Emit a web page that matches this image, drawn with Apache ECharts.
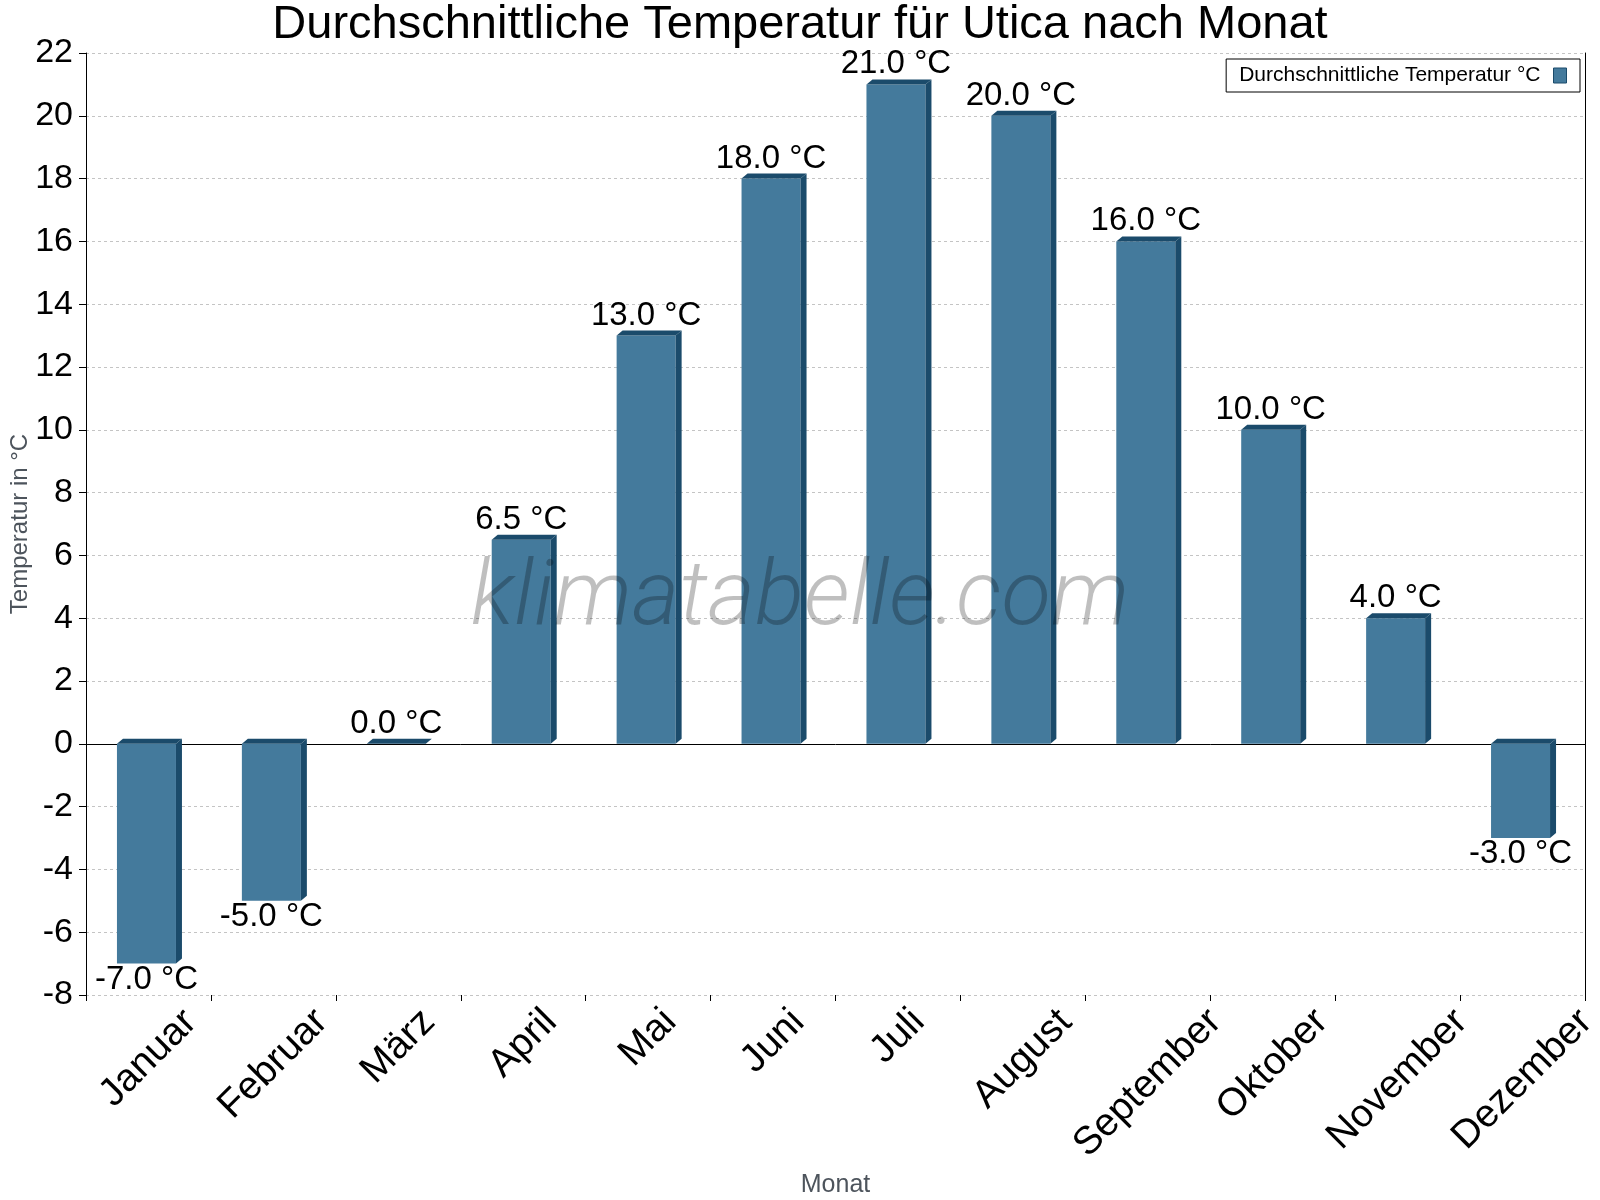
<!DOCTYPE html>
<html>
<head>
<meta charset="utf-8">
<script src="https://cdn.jsdelivr.net/npm/echarts@6/dist/echarts.min.js"></script>
<style>
  html, body { margin: 0; padding: 0; background: #fff; }
  #main { width: 1600px; height: 1200px; }
</style>
</head>
<body>
<div id="main"></div>
<script>
// data
const months = ['Januar', 'Februar', 'März', 'April', 'Mai', 'Juni', 'Juli', 'August', 'September', 'Oktober', 'November', 'Dezember'];
const temps = [-7.0, -5.0, 0.0, 6.5, 13.0, 18.0, 21.0, 20.0, 16.0, 10.0, 4.0, -3.0];
const yTicks = { min: -8, max: 22, interval: 2 };
const seriesName = 'Durchschnittliche Temperatur °C';

const FONT = '"Liberation Sans", Arial, sans-serif';
const FRONT = '#447a9c';
const SIDE = '#1b4b6b';

// rotated month labels: centred on the category, tops lined up
const xFont = 39;
const ctx = document.createElement('canvas').getContext('2d');
ctx.font = xFont + 'px "Liberation Sans"';
const rich = {};
months.forEach((m, i) => {
  const p = Math.round(ctx.measureText(m).width * 0.5);
  rich['m' + i] = { fontSize: xFont, fontFamily: FONT, color: '#000', padding: [p, p, 0, 0] };
});

function renderItem(params, api) {
  const idx = api.value(0);
  const val = api.value(1);
  const base = api.coord([idx, 0]);
  const end = api.coord([idx, val]);
  const w = 59, d = 6, dy = 5;
  const x0 = base[0] - 31.5;
  const x1 = x0 + w;
  const yT = Math.min(base[1], end[1]);
  const yB = Math.max(base[1], end[1]);
  const labelY = val >= 0 ? yT - dy - 15 : yB + 16;
  return {
    type: 'group',
    children: [
      { type: 'rect', shape: { x: x0, y: yT, width: w, height: yB - yT }, style: { fill: FRONT } },
      { type: 'polygon', shape: { points: [[x1, yT], [x1 + d, yT - dy], [x1 + d, yB - dy], [x1, yB]] }, style: { fill: SIDE } },
      { type: 'polygon', shape: { points: [[x0, yT], [x0 + d, yT - dy], [x1 + d, yT - dy], [x1, yT]] }, style: { fill: SIDE } },
      {
        type: 'text',
        style: {
          x: x0 + w / 2, y: labelY,
          text: val.toFixed(1) + ' °C',
          align: 'center', verticalAlign: 'middle',
          font: '33px ' + FONT, fill: '#000'
        }
      }
    ]
  };
}

const chart = echarts.init(document.getElementById('main'));
chart.setOption({
  backgroundColor: '#fff',
  animation: false,
  title: {
    text: 'Durchschnittliche Temperatur für Utica nach Monat',
    left: 'center', top: 2, padding: 0,
    textStyle: { fontFamily: FONT, fontSize: 47, fontWeight: 'normal', color: '#000' }
  },
  legend: {
    right: 20, top: 59,
    align: 'right',
    padding: [6, 13, 6, 13],
    borderColor: '#000', borderWidth: 1,
    itemWidth: 13, itemHeight: 15,
    textStyle: { fontFamily: FONT, fontSize: 21, color: '#000', padding: [0, 8, 0, 0] },
    data: [{ name: seriesName, icon: 'rect', itemStyle: { color: FRONT, borderColor: SIDE, borderWidth: 1 } }]
  },
  grid: { left: 86, right: 15, top: 53, bottom: 205, containLabel: false, outerBoundsMode: 'none' },
  xAxis: [{
    type: 'category',
    data: months,
    boundaryGap: true,
    name: 'Monat',
    nameLocation: 'middle',
    nameGap: 178,
    nameMoveOverlap: false,
    nameTextStyle: { fontFamily: FONT, fontSize: 25, color: '#4d545c' },
    axisLine: { show: false, onZero: false },
    axisTick: { show: true, length: 6, lineStyle: { color: '#000' } },
    axisLabel: {
      interval: 0, rotate: 45, margin: 21,
      align: 'center', verticalAlign: 'middle',
      fontFamily: FONT, fontSize: xFont, color: '#000',
      formatter: (v, i) => '{m' + i + '|' + v + '}',
      rich: rich
    },
    splitLine: { show: false }
  }, {
    type: 'category',
    data: months,
    position: 'top',
    axisLine: { show: true, onZero: true, lineStyle: { color: '#000', width: 1 } },
    axisTick: { show: false },
    axisLabel: { show: false },
    splitLine: { show: false }
  }],
  yAxis: [{
    type: 'value',
    min: yTicks.min, max: yTicks.max, interval: yTicks.interval,
    name: 'Temperatur in °C',
    nameLocation: 'middle',
    nameGap: 54,
    nameMoveOverlap: false,
    nameTextStyle: { fontFamily: FONT, fontSize: 24, color: '#4d545c' },
    axisLine: { show: true, lineStyle: { color: '#000' } },
    axisTick: { show: true, length: 7, lineStyle: { color: '#000' } },
    axisLabel: { fontFamily: FONT, fontSize: 34, color: '#000', margin: 13 },
    splitLine: { show: true, lineStyle: { color: '#c4c4c4', type: [3, 3], width: 1 } }
  }, {
    type: 'value',
    position: 'right',
    min: yTicks.min, max: yTicks.max, interval: yTicks.interval,
    axisLine: { show: true, lineStyle: { color: '#000' } },
    axisTick: { show: false },
    axisLabel: { show: false },
    splitLine: { show: false }
  }],
  graphic: [{
    type: 'text',
    left: 'center',
    top: 556,
    z: 100,
    silent: true,
    style: {
      text: 'klimatabelle.com',
      font: 'italic 300 91px Roboto, "Open Sans", sans-serif',
      fill: 'rgba(0,0,0,0.25)'
    }
  }],
  series: [{
    name: seriesName,
    type: 'custom',
    xAxisIndex: 0,
    yAxisIndex: 0,
    renderItem: renderItem,
    itemStyle: { color: FRONT },
    encode: { x: 0, y: 1 },
    data: temps.map((v, i) => [i, v]),
    z: 3
  }]
});
</script>
</body>
</html>
